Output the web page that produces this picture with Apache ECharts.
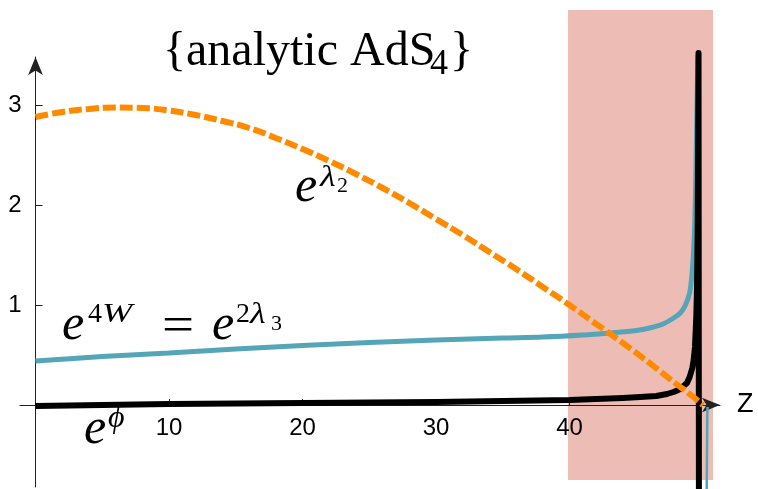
<!DOCTYPE html>
<html>
<head>
<meta charset="utf-8">
<script src="https://cdn.jsdelivr.net/npm/echarts@6/dist/echarts.min.js"></script>
<style>html,body{margin:0;padding:0;background:#fff}#c{width:758px;height:489px}</style>
</head>
<body>
<div id="c"></div>
<script>
// ---- data ----
const xTicks = [10, 20, 30, 40];
const yTicks = [1, 2, 3];
const eLambda2 = [[0,2.88],[2,2.93],[4,2.96],[6,2.975],[8,2.97],[10,2.945],[12,2.90],[14,2.84],[16,2.77],[18,2.67],[20,2.56],[22,2.44],[24,2.31],[26,2.17],[28,2.02],[30,1.86],[32,1.70],[34,1.53],[36,1.36],[38,1.18],[40,1.00],[42,0.81],[44,0.62],[46,0.42],[48,0.21],[49,0.11],[50,0.0]];
const e4W = [[0,0.44],[5,0.485],[10,0.52],[15,0.56],[20,0.595],[25,0.625],[30,0.65],[35,0.67],[38,0.68],[41,0.70],[43,0.72],[45,0.745],[46,0.77],[47,0.81],[47.8,0.87],[48.3,0.92],[48.65,0.99],[49.0,1.12],[49.2,1.35],[49.35,1.7],[49.45,2.2],[49.55,3.0],[49.62,3.5]];
const e4WRight = [[49.75,-8],[50.2,-2],[50.28,-0.8],[50.32,-0.1],[50.34,-0.02]];
const ePhi = [[0,-0.01],[5,0.0],[10,0.01],[20,0.02],[30,0.03],[40,0.05],[44,0.07],[45.3,0.08],[46.5,0.09],[47.3,0.11],[47.8,0.13],[48.3,0.16],[48.8,0.22],[49.0,0.28],[49.2,0.37],[49.3,0.45],[49.4,0.58],[49.5,0.89],[49.55,1.17],[49.6,1.74],[49.63,2.47],[49.665,3.52],[49.70,3.52],[49.72,-5]];
const shadedRegion = [[39.89, 50.75, -0.75, 3.95]];

// ---- layout (pixel geometry) ----
const X0 = 35.5, XS = 13.35, Y0 = 405, YS = 100;
const xv = px => (px - X0) / XS;
const yv = py => (Y0 - py) / YS;
const AX_RIGHT = 720, AX_TOP = 57;

const serif = 'Liberation Serif';
const sans = 'Liberation Sans';
function txt(s, x, y, size, italic, extra) {
  return Object.assign({
    type: 'text', x: x, y: y, z: 50,
    style: {text: s, fontFamily: serif, fontSize: size, fontStyle: italic ? 'italic' : 'normal',
            fill: '#000', textAlign: 'left', verticalAlign: 'middle'}
  }, extra || {});
}
const noBounds = {outerBoundsMode: 'none', containLabel: false};

const chart = echarts.init(document.getElementById('c'), null, {renderer: 'canvas'});
chart.setOption({
  animation: false,
  backgroundColor: '#fff',
  grid: [
    Object.assign({left: 20, top: AX_TOP, width: AX_RIGHT - 20, height: Y0 - AX_TOP}, noBounds),   // x axis
    Object.assign({left: X0, top: AX_TOP, width: AX_RIGHT - X0, height: 487 - AX_TOP}, noBounds),  // y axis
    Object.assign({left: 20, top: 0, width: 758 - 20, height: 489}, noBounds)                     // data
  ],
  xAxis: [
    {type: 'value', gridIndex: 0, position: 'bottom', min: xv(20), max: xv(AX_RIGHT),
     axisLine: {show: true, onZero: false, symbol: ['none', 'arrow'], symbolSize: [11, 18], lineStyle: {color: '#222', width: 1}},
     axisTick: {show: true, inside: true, length: 6, customValues: xTicks, lineStyle: {color: '#222'}},
     axisLabel: {show: true, customValues: xTicks, margin: 11, fontSize: 24, fontFamily: sans, color: '#000'},
     splitLine: {show: false},
     name: 'Z', nameLocation: 'end', nameGap: 17,
     nameTextStyle: {fontSize: 27, fontFamily: sans, color: '#000', verticalAlign: 'middle'}},
    {type: 'value', gridIndex: 1, min: 0, max: 1, show: false},
    {type: 'value', gridIndex: 2, min: xv(20), max: xv(758), show: false}
  ],
  yAxis: [
    {type: 'value', gridIndex: 0, min: 0, max: 1, show: false},
    {type: 'value', gridIndex: 1, position: 'left', min: yv(487), max: yv(AX_TOP),
     axisLine: {show: true, onZero: false, symbol: ['none', 'arrow'], symbolSize: [11, 18], lineStyle: {color: '#222', width: 1}},
     axisTick: {show: true, inside: true, length: 7, customValues: yTicks, lineStyle: {color: '#222'}},
     axisLabel: {show: true, customValues: yTicks, margin: 14, fontSize: 24, fontFamily: sans, color: '#000'},
     splitLine: {show: false}},
    {type: 'value', gridIndex: 2, min: yv(489), max: yv(0), show: false}
  ],
  series: [
    {type: 'custom', xAxisIndex: 2, yAxisIndex: 2, z: -1, data: shadedRegion,
     renderItem: function (params, api) {
       const p0 = api.coord([api.value(0), api.value(3)]);
       const p1 = api.coord([api.value(1), api.value(2)]);
       return {type: 'rect', shape: {x: p0[0], y: p0[1], width: p1[0] - p0[0], height: p1[1] - p0[1]},
               style: {fill: '#EDBDB5'}};
     }},
    {type: 'line', xAxisIndex: 2, yAxisIndex: 2, data: e4W, showSymbol: false, smooth: 0.3, z: 3,
     lineStyle: {color: '#54A5B8', width: 5}},
    {type: 'line', xAxisIndex: 2, yAxisIndex: 2, data: e4WRight, showSymbol: false, z: 3,
     lineStyle: {color: '#54A5B8', width: 2.5}},
    {type: 'line', xAxisIndex: 2, yAxisIndex: 2, data: ePhi, showSymbol: false, smooth: false, z: 4,
     lineStyle: {color: '#000', width: 6, join: 'round'}},
    {type: 'line', xAxisIndex: 2, yAxisIndex: 2, data: eLambda2, showSymbol: false, smooth: 0.5, z: 5,
     lineStyle: {color: '#FF8A00', width: 6, type: [13, 4], cap: 'butt'}}
  ],
  graphic: [
    // title
    txt('{analytic AdS', 163, 52, 48, false),
    txt('4', 430, 65, 36, false),
    txt('}', 450, 52, 48, false),
    // e^{lambda_2}
    txt('e', 295, 188, 50, true),
    txt('λ', 320, 178, 30, true, {scaleX: 1.2}),
    txt('2', 337, 186, 22, false),
    // e^{4W} = e^{2 lambda_3}
    txt('e', 62, 326, 50, true),
    txt('4', 88, 315, 28, false),
    txt('W', 102, 315, 28, true, {scaleX: 1.3}),
    txt('=', 162, 328, 50, false, {scaleX: 1.14}),
    txt('e', 212, 326, 50, true),
    txt('2', 236, 315, 28, false),
    txt('λ', 250, 315, 30, true, {scaleX: 1.2}),
    txt('3', 271, 324, 22, false),
    // e^{phi}
    txt('e', 84, 430, 50, true),
    txt('ϕ', 108, 419, 32, true)
  ]
});
</script>
</body>
</html>
